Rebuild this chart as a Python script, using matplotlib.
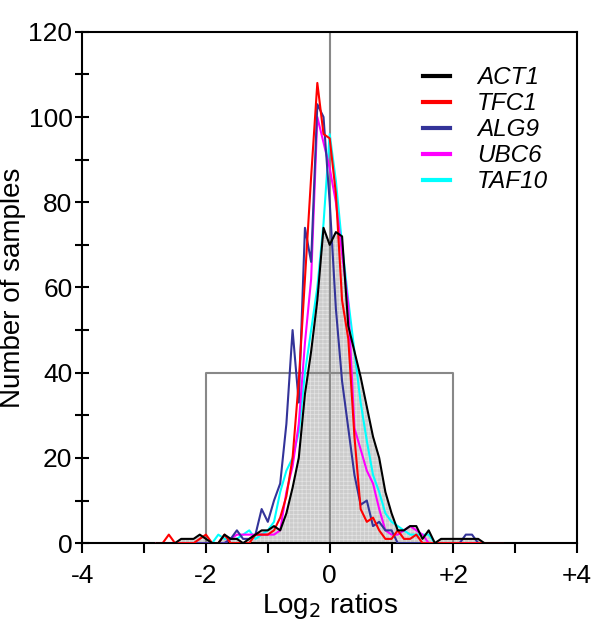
import matplotlib
matplotlib.use('Agg')
import matplotlib.pyplot as plt
import numpy as np

plt.rcParams['font.family'] = ['Liberation Sans', 'DejaVu Sans']
plt.rcParams['hatch.linewidth'] = 0.5

# bin centres of the log2 ratio histograms (step 0.1)
bins = np.round(np.arange(-2.8, 2.81, 0.1), 1)

# counts per bin (bins not listed are 0)
act1 = {-2.4: 1, -2.3: 1, -2.2: 1, -2.1: 2, -2.0: 1, -1.7: 2, -1.6: 1, -1.5: 1,
        -1.3: 1, -1.2: 2, -1.1: 3, -1.0: 3, -0.9: 4, -0.8: 3, -0.7: 7, -0.6: 13,
        -0.5: 20, -0.4: 35, -0.3: 45, -0.2: 57, -0.1: 74, 0.0: 70, 0.1: 73,
        0.2: 72, 0.3: 51, 0.4: 45, 0.5: 39, 0.6: 32, 0.7: 25, 0.8: 20, 0.9: 12,
        1.0: 7, 1.1: 3, 1.2: 3, 1.3: 4, 1.4: 4, 1.5: 1, 1.6: 3, 1.8: 1, 1.9: 1,
        2.0: 1, 2.1: 1, 2.2: 1, 2.3: 1, 2.4: 1}
tfc1 = {-2.6: 2, -2.1: 1, -2.0: 2, -1.7: 2, -1.2: 2, -1.1: 2, -1.0: 2, -0.9: 3,
        -0.8: 6, -0.7: 11, -0.6: 20, -0.5: 38, -0.4: 62, -0.3: 86, -0.2: 108,
        -0.1: 96, 0.0: 95, 0.1: 82, 0.2: 57, 0.3: 48, 0.4: 25, 0.5: 8, 0.6: 5,
        0.7: 6, 0.8: 3, 0.9: 1, 1.0: 1, 1.1: 3, 1.2: 1, 1.3: 1, 1.4: 2}
alg9 = {-1.6: 1, -1.5: 3, -1.4: 1, -1.3: 1, -1.2: 2, -1.1: 8, -1.0: 5, -0.9: 10,
        -0.8: 14, -0.7: 28, -0.6: 50, -0.5: 33, -0.4: 74, -0.3: 66, -0.2: 103,
        -0.1: 100, 0.0: 80, 0.1: 55, 0.2: 38, 0.3: 27, 0.4: 16, 0.5: 9, 0.6: 10,
        0.7: 4, 0.8: 5, 0.9: 3, 1.0: 3, 2.2: 2, 2.3: 2}
ubc6 = {-1.6: 1, -1.5: 2, -1.4: 2, -1.3: 2, -1.2: 2, -1.1: 2, -1.0: 2, -0.9: 2,
        -0.8: 3, -0.7: 12, -0.6: 18, -0.5: 28, -0.4: 47, -0.3: 62, -0.2: 100,
        -0.1: 94, 0.0: 88, 0.1: 80, 0.2: 68, 0.3: 56, 0.4: 27, 0.5: 22, 0.6: 17,
        0.7: 14, 0.8: 8, 0.9: 3, 1.0: 2, 1.1: 2, 1.2: 3, 1.3: 4, 1.4: 3, 1.5: 2}
taf10 = {-1.8: 2, -1.7: 1, -1.6: 1, -1.5: 1, -1.4: 2, -1.3: 3, -1.2: 1, -1.1: 2,
         -1.0: 3, -0.9: 5, -0.8: 12, -0.7: 17, -0.6: 20, -0.5: 26, -0.4: 40,
         -0.3: 50, -0.2: 60, -0.1: 75, 0.0: 96, 0.1: 85, 0.2: 70, 0.3: 57,
         0.4: 45, 0.5: 33, 0.6: 24, 0.7: 16, 0.8: 12, 0.9: 7, 1.0: 5, 1.1: 4,
         1.2: 3, 1.3: 2, 1.4: 2, 1.5: 2, 1.6: 2}

series = [('ACT1', act1, 'black'), ('TFC1', tfc1, '#ff0000'),
          ('ALG9', alg9, '#333399'), ('UBC6', ubc6, '#ff00ff'),
          ('TAF10', taf10, '#00ffff')]


def counts(d):
    return np.array([d.get(float(b), 0) for b in bins])


fig = plt.figure(figsize=(6.0, 6.36), dpi=100)
ax = fig.add_axes([0.137, 0.146, 0.825, 0.804])

# grey filled ACT1 distribution
ax.fill_between(bins, counts(act1), 0, facecolor='#cccccc', edgecolor='#e4e4e4',
                hatch='++++', linewidth=0, zorder=1)

# reference lines: x = 0 and the +/-2, 40 box
ax.axvline(0, color='#888888', lw=1.5, zorder=2)
ax.plot([-2, -2, 2, 2], [0, 40, 40, 0], color='#888888', lw=1.5, zorder=2)

for i, (name, d, col) in enumerate(series):
    ax.plot(bins, counts(d), color=col, lw=1.5, label=name, zorder=5 - i * 0.1)

ax.set_xlim(-4, 4)
ax.set_ylim(0, 120)
ax.set_xticks([-4, -2, 0, 2, 4])
ax.set_xticklabels(['-4', '-2', '0', '+2', '+4'])
ax.set_xticks([-3, -1, 1, 3], minor=True)
ax.set_yticks(np.arange(0, 121, 20))
ax.set_yticks(np.arange(10, 120, 20), minor=True)
ax.tick_params(axis='x', which='both', direction='out', length=7, width=1.5,
               labelsize=19, pad=8)
ax.tick_params(axis='y', which='both', direction='inout', length=10, width=1.5,
               labelsize=19, pad=2)
for s in ax.spines.values():
    s.set_linewidth(1.5)

ax.set_xlabel('Log$_2$ ratios', fontsize=20, labelpad=2)
ax.set_ylabel('Number of samples', fontsize=20, labelpad=2)

leg = ax.legend(loc='upper right', bbox_to_anchor=(0.985, 0.975), frameon=False,
                fontsize=17.5, handlelength=1.1, handletextpad=1.1,
                labelspacing=0.12)
for t in leg.get_texts():
    t.set_fontstyle('italic')
for h in leg.get_lines():
    h.set_linewidth(3)

plt.savefig('out.png', dpi=100)
